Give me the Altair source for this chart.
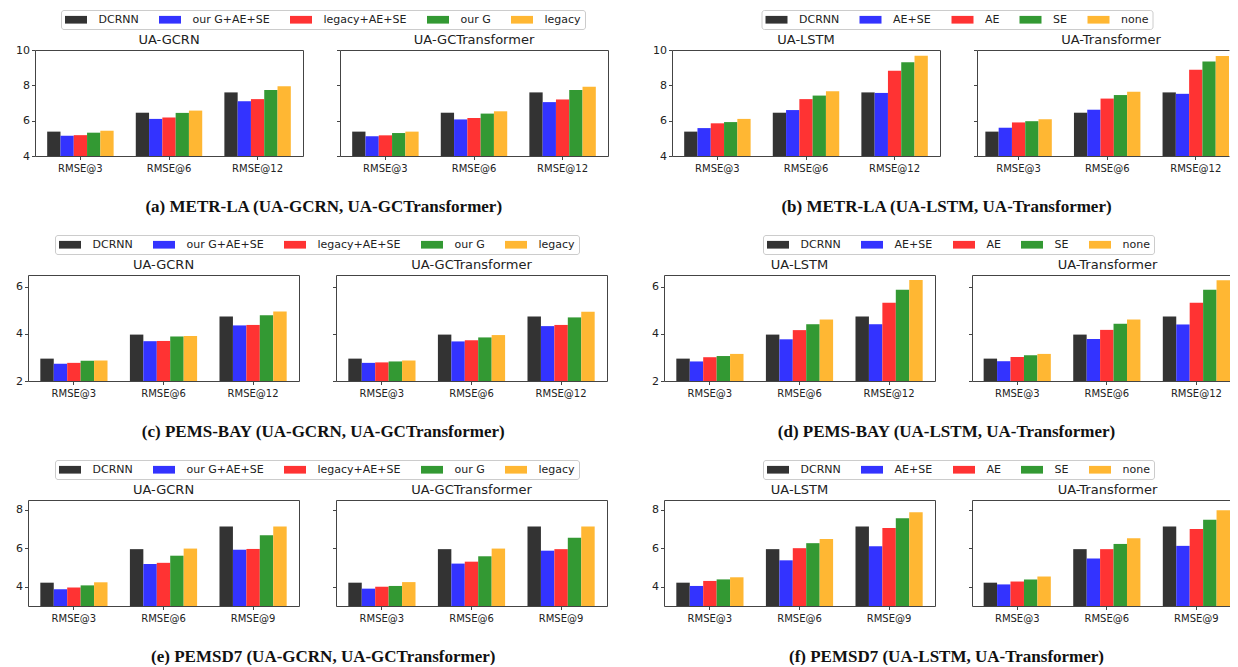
import altair as alt
import pandas as pd

# ---------------- data ----------------
metrics_12 = ["RMSE@3", "RMSE@6", "RMSE@12"]
metrics_9 = ["RMSE@3", "RMSE@6", "RMSE@9"]
series_graph = ["DCRNN", "our G+AE+SE", "legacy+AE+SE", "our G", "legacy"]
series_emb = ["DCRNN", "AE+SE", "AE", "SE", "none"]
colors = ["#333333", "#3333ff", "#ff3333", "#339933", "#ffb733"]

# each panel: one list per series, values for the three horizons
la_gcrn = [[5.38, 6.45, 7.60], [5.15, 6.10, 7.10], [5.18, 6.18, 7.22], [5.32, 6.44, 7.74], [5.43, 6.57, 7.95]]
la_gctr = [[5.38, 6.45, 7.60], [5.12, 6.07, 7.05], [5.17, 6.15, 7.20], [5.30, 6.40, 7.73], [5.38, 6.53, 7.92]]
la_lstm = [[5.38, 6.45, 7.60], [5.58, 6.60, 7.57], [5.85, 7.22, 8.83], [5.92, 7.42, 9.30], [6.10, 7.67, 9.68]]
la_tr = [[5.38, 6.45, 7.60], [5.60, 6.62, 7.52], [5.90, 7.25, 8.88], [5.97, 7.45, 9.35], [6.08, 7.63, 9.66]]

bay_gcrn = [[2.95, 3.97, 4.74], [2.73, 3.69, 4.36], [2.77, 3.70, 4.38], [2.86, 3.89, 4.79], [2.87, 3.91, 4.95]]
bay_gctr = [[2.95, 3.97, 4.74], [2.77, 3.68, 4.33], [2.79, 3.73, 4.38], [2.83, 3.85, 4.70], [2.87, 3.95, 4.94]]
bay_lstm = [[2.95, 3.97, 4.74], [2.83, 3.77, 4.41], [3.01, 4.16, 5.32], [3.06, 4.41, 5.87], [3.15, 4.61, 6.29]]
bay_tr = [[2.95, 3.97, 4.74], [2.84, 3.78, 4.40], [3.02, 4.17, 5.32], [3.09, 4.43, 5.87], [3.15, 4.61, 6.28]]

d7_gcrn = [[4.21, 5.95, 7.13], [3.87, 5.18, 5.92], [3.96, 5.24, 5.96], [4.07, 5.61, 6.67], [4.23, 5.98, 7.12]]
d7_gctr = [[4.21, 5.95, 7.13], [3.90, 5.20, 5.87], [4.00, 5.30, 5.95], [4.04, 5.58, 6.54], [4.24, 5.98, 7.12]]
d7_lstm = [[4.21, 5.95, 7.13], [4.04, 5.37, 6.10], [4.30, 6.00, 7.05], [4.38, 6.26, 7.55], [4.49, 6.48, 7.87]]
d7_tr = [[4.21, 5.95, 7.13], [4.12, 5.47, 6.12], [4.27, 5.95, 6.99], [4.38, 6.22, 7.47], [4.53, 6.52, 7.97]]

y_la = [4, 10]
y_bay = [2, 6.5]
y_d7 = [3, 8.5]
ticks_la = [4, 6, 8, 10]
ticks_bay = [2, 4, 6]
ticks_d7 = [4, 6, 8]

captions = [
    "(a) METR-LA (UA-GCRN, UA-GCTransformer)",
    "(b) METR-LA (UA-LSTM, UA-Transformer)",
    "(c) PEMS-BAY (UA-GCRN, UA-GCTransformer)",
    "(d) PEMS-BAY (UA-LSTM, UA-Transformer)",
    "(e) PEMSD7 (UA-GCRN, UA-GCTransformer)",
    "(f) PEMSD7 (UA-LSTM, UA-Transformer)",
]

FRAME = "#444444"
TXT = "#222222"
INDEP = dict(color="independent", xOffset="independent")
LEG_Y = -40
P_IN, P_OUT = 0.25, 0.1375


def make_df(values, metrics, series):
    rows = []
    for s, vals in zip(series, values):
        for m, v in zip(metrics, vals):
            rows.append({"metric": m, "series": s, "value": v})
    return pd.DataFrame(rows)


def legend_for(lx):
    return alt.Legend(
        orient="none", legendX=lx, legendY=LEG_Y, direction="horizontal", columns=5,
        title=None, symbolType="M-2,-0.7L2,-0.7L2,0.7L-2,0.7Z", symbolSize=121,
        symbolStrokeWidth=0, symbolOffset=5.5, labelOffset=17, columnPadding=20,
        padding=4, strokeColor="#cccccc", fillColor="white", cornerRadius=2.5,
        labelFont="DejaVu Sans", labelFontSize=11, labelColor=TXT,
    )


def panel(values, metrics, series, title, ydom, yticks, w, h,
          first=False, legend=None, trunc_w=None):
    df = make_df(values, metrics, series)
    if trunc_w:
        # same band geometry as a full-width panel, cut at the window edge
        n = len(metrics)
        step = w / (n - P_IN + 2 * P_OUT)
        p_out = (trunc_w / step - (n - P_IN)) / 2
        free = trunc_w - step * (n - P_IN)
        align = min(1.0, max(0.0, (P_OUT * step) / free)) if free > 0 else 0.5
        xs = alt.Scale(domain=metrics, paddingInner=P_IN, paddingOuter=p_out, align=align)
    else:
        xs = alt.Scale(domain=metrics, paddingInner=P_IN, paddingOuter=P_OUT)
    ys = alt.Scale(domain=ydom, nice=False, zero=False, clamp=True)
    xo = alt.XOffset("series:N", scale=alt.Scale(domain=series, paddingInner=0, paddingOuter=0))
    col = alt.Color("series:N", scale=alt.Scale(domain=series, range=colors),
                    legend=legend if legend is not None else None)
    xenc = alt.X("metric:N", scale=xs, sort=metrics,
                 axis=alt.Axis(title=None, labelAngle=0, labelFontSize=10, labelPadding=4))
    tp = dict(text=title, fontSize=13, font="DejaVu Sans", fontWeight="normal",
              color=TXT, offset=(3 + LEG_Y) if legend is not None else 3, frame="group")
    if trunc_w:
        lo, hi = ydom
        extra = [v for v in (lo, hi) if v not in yticks]
        vals = sorted(set(list(yticks) + [lo, hi]))
        ax = dict(title=None, values=vals, labels=False, domain=True, grid=True,
                  gridColor=FRAME, gridWidth=1,
                  gridOpacity={"condition": {"test": f"datum.value === {lo} || datum.value === {hi}",
                                             "value": 1}, "value": 0})
        if extra:
            test = " || ".join(f"datum.value === {v}" for v in extra)
            ax["tickOpacity"] = {"condition": {"test": test, "value": 0}, "value": 1}
        yenc = alt.Y("value:Q", scale=ys, axis=alt.Axis(**ax))
        tp["dx"] = (w - trunc_w) / 2
        return alt.Chart(df).mark_bar(clip=True).encode(
            x=xenc, xOffset=xo, y=yenc, color=col
        ).properties(width=trunc_w, height=h, title=alt.TitleParams(**tp),
                     view=alt.ViewBackground(strokeOpacity=0))
    yenc = alt.Y("value:Q", scale=ys,
                 axis=alt.Axis(title=None, values=yticks, labels=first, labelFontSize=11,
                               grid=False))
    return alt.Chart(df).mark_bar(clip=True).encode(
        x=xenc, xOffset=xo, y=yenc, color=col
    ).properties(width=w, height=h, title=alt.TitleParams(**tp))


def caption(text, dx=0):
    return alt.TitleParams(text=text, orient="bottom", anchor="middle",
                           font="Liberation Serif", fontSize=17, fontWeight="bold",
                           color="#111111", offset=25, dx=dx)


def spacer():
    # invisible 1px anchor so each row is placed by its own tick-label overhang
    return alt.Chart(pd.DataFrame({"v": [0]})).mark_point(size=0, opacity=0).encode(
        x=alt.value(0), y=alt.value(0)
    ).properties(width=1, height=1, view=alt.ViewBackground(strokeOpacity=0))


def row(vals4, metrics, ydom, yticks, w, h, tw, capA, capB, lxa, lxb):
    aL = panel(vals4[0], metrics, series_graph, "UA-GCRN", ydom, yticks, w, h,
               first=True, legend=legend_for(lxa))
    aR = panel(vals4[1], metrics, series_graph, "UA-GCTransformer", ydom, yticks, w, h)
    bL = panel(vals4[2], metrics, series_emb, "UA-LSTM", ydom, yticks, w, h,
               first=True, legend=legend_for(lxb))
    bR = panel(vals4[3], metrics, series_emb, "UA-Transformer", ydom, yticks, w, h,
               trunc_w=tw)
    subA = alt.hconcat(aL, aR, spacing=37, bounds="flush").resolve_scale(**INDEP).properties(
        title=caption(capA, dx=12))
    subB = alt.hconcat(bL, bR, spacing=37, bounds="flush").resolve_scale(**INDEP).properties(
        title=caption(capB, dx=6))
    body = alt.hconcat(subA, subB, spacing=43).resolve_scale(**INDEP)
    return alt.hconcat(spacer(), body, spacing=0).resolve_scale(**INDEP)


r1 = row([la_gcrn, la_gctr, la_lstm, la_tr], metrics_12, y_la, ticks_la, 268, 106, 252,
         captions[0], captions[1], 26, 89.5)
r2 = row([bay_gcrn, bay_gctr, bay_lstm, bay_tr], metrics_12, y_bay, ticks_bay, 271, 106, 258,
         captions[2], captions[3], 27, 99)
r3 = row([d7_gcrn, d7_gctr, d7_lstm, d7_tr], metrics_9, y_d7, ticks_d7, 271, 106, 258,
         captions[4], captions[5], 27, 99)

chart = (
    alt.vconcat(r1, r2, r3, spacing=19)
    .resolve_scale(**INDEP)
    .properties(padding={"left": 6, "top": 1, "right": 0, "bottom": 0})
    .configure_view(stroke=FRAME, strokeWidth=1)
    .configure_axis(labelFont="DejaVu Sans", labelColor=TXT, tickColor=FRAME,
                    domainColor=FRAME, tickSize=3.5, tickWidth=1, labelPadding=2,
                    domain=False)
    .configure_title(font="DejaVu Sans")
)

chart.save("out.html", embed_options={"renderer": "svg", "actions": False})
